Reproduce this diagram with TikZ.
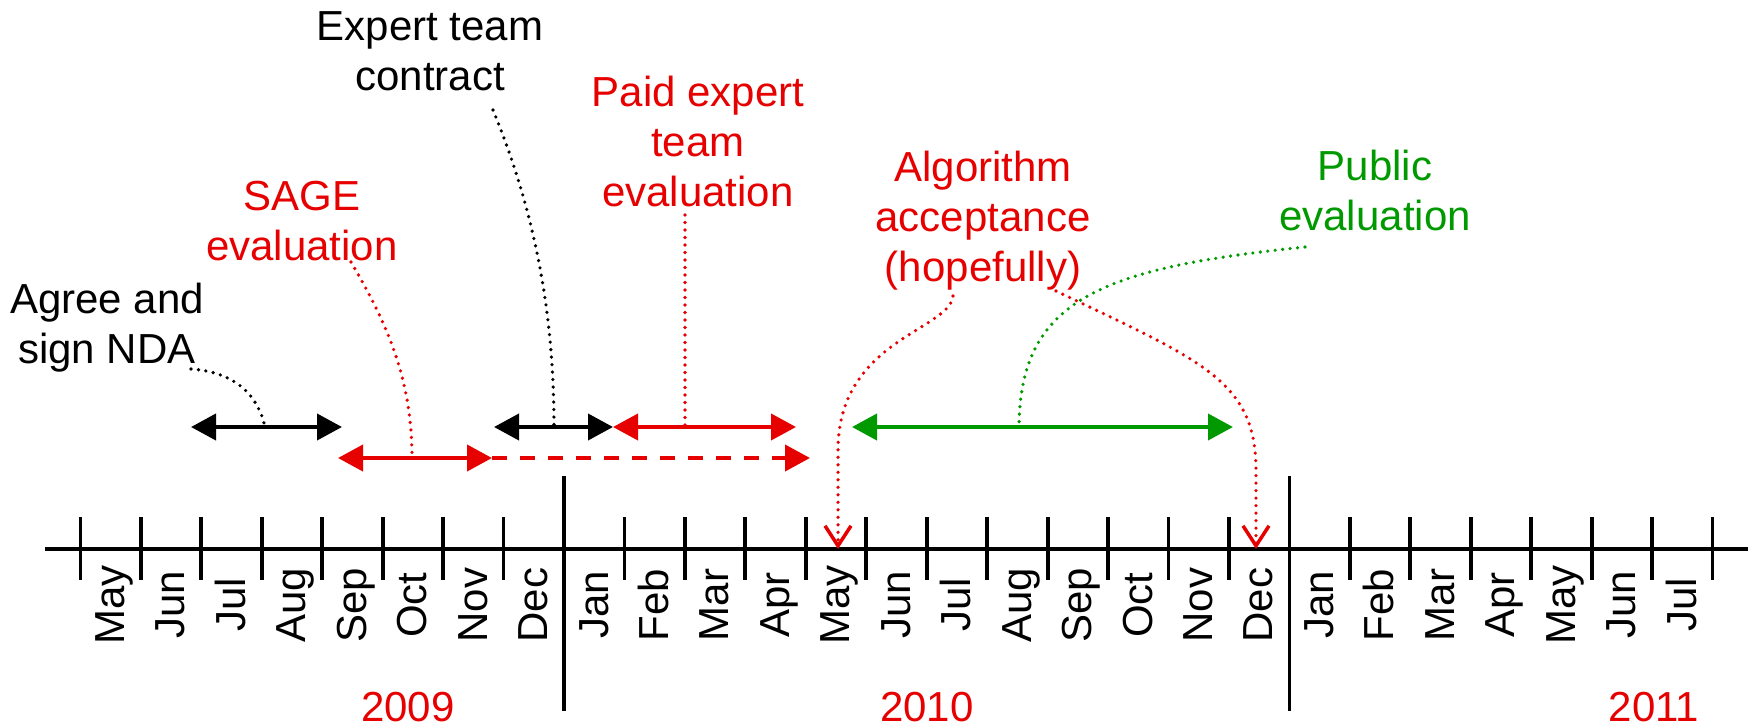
\documentclass[tikz,border=0pt]{standalone}
\usepackage{fontspec}
\setmainfont{Liberation Sans}
\usetikzlibrary{arrows.meta}
\definecolor{myred}{RGB}{230,0,0}
\definecolor{mygreen}{RGB}{0,153,0}
\begin{document}
\begin{tikzpicture}[x=1pt,y=-1pt,
  lbl/.style={font=\fontsize{42}{50}\selectfont, align=center, inner sep=0pt},
  month/.style={font=\fontsize{42}{50}\selectfont, rotate=90, inner sep=0pt, anchor=base},
  span/.style={line width=4pt, {Triangle[length=25pt,width=26pt]}-{Triangle[length=25pt,width=26pt]}},
  halfspan/.style={line width=4pt, dash pattern=on 15pt off 13pt, -{Triangle[length=25pt,width=26pt]}},
  leader/.style={line width=3.6pt, line cap=round, dash pattern=on 0pt off 7.5pt},
  barb/.style={-{Straight Barb[length=20pt,width=26pt,line width=3.5pt]}},
  ax/.style={line width=3.8pt},
]
\useasboundingbox (0,0) rectangle (1756,728);

% axis
\coordinate (axL) at (45,549);
\coordinate (axR) at (1748,549);
\draw[ax] (axL) -- (axR);
\foreach \i in {0,...,27}{
  \draw[ax] ({80.4+60.45*\i},517) -- ({80.4+60.45*\i},580);
}
\draw[ax] ({80.4+60.45*8},476) -- ({80.4+60.45*8},711);
\draw[ax] ({80.4+60.45*20},476) -- ({80.4+60.45*20},711);

% month labels
\foreach \m [count=\i from 0] in {May,Jun,Jul,Aug,Sep,Oct,Nov,Dec,Jan,Feb,Mar,Apr,May,Jun,Jul,Aug,Sep,Oct,Nov,Dec,Jan,Feb,Mar,Apr,May,Jun,Jul}{
  \node[month] (m\i) at ({80.4+60.45*\i+44},605) {\m};
}

% years
\node[lbl, text=myred] (y2009) at (408,707) {2009};
\node[lbl, text=myred] (y2010) at (927,707) {2010};
\node[lbl, text=myred] (y2011) at (1654,707) {2011};

% labels
\node[lbl] (nda) at (107,328) {Agree and\\sign NDA};
\node[lbl, text=myred] (sage) at (302,221) {SAGE\\evaluation};
\node[lbl] (contract) at (430,51) {Expert team\\contract};
\node[lbl, text=myred] (paid) at (698,141) {Paid expert\\team\\evaluation};
\node[lbl, text=myred] (alg) at (983,221) {Algorithm\\acceptance\\(hopefully)};
\node[lbl, text=mygreen] (pub) at (1375,190) {Public\\evaluation};

% span arrows
\coordinate (ndaL) at (191,427); \coordinate (ndaR) at (342,427); \coordinate (ndaM) at (265,427);
\coordinate (sageL) at (338,458); \coordinate (sageR) at (492,458); \coordinate (sageM) at (412,458);
\coordinate (dashE) at (810,458);
\coordinate (conL) at (494,427); \coordinate (conR) at (613,427); \coordinate (conM) at (554,427);
\coordinate (paidL) at (613,427); \coordinate (paidR) at (796,427); \coordinate (paidM) at (685,427);
\coordinate (pubL) at (852,427); \coordinate (pubR) at (1233,427); \coordinate (pubM) at (1019,427);
\coordinate (mayT) at (838,549);
\coordinate (decT) at (1256,549);

\draw[span] (ndaL) -- (ndaR);
\draw[span, myred] (sageL) -- (sageR);
\draw[halfspan, myred] (sageR) -- (dashE);
\draw[span] (conL) -- (conR);
\draw[span, myred] (paidL) -- (paidR);
\draw[span, mygreen] (pubL) -- (pubR);

% leader start points
\coordinate (ndaS) at (191,369);
\coordinate (sageS) at (351,262);
\coordinate (conS) at (493,110);
\coordinate (paidS) at (685,215);
\coordinate (algS1) at (953,296);
\coordinate (algS2) at (1056,291);
\coordinate (pubS) at (1305,247);

\draw[leader] (ndaS) .. controls (235,372) and (258,395) .. (ndaM);
\draw[leader, myred] (sageS) .. controls (388,325) and (412,380) .. (sageM);
\draw[leader] (conS) .. controls (530,200) and (554,300) .. (conM);
\draw[leader, myred] (paidS) -- (paidM);
\draw[leader, mygreen] (pubS) .. controls (1100,268) and (1020,300) .. (pubM);
\draw[leader, myred, barb] (algS1) .. controls (950,330) and (838,340) .. (838,450) -- (mayT);
\draw[leader, myred, barb] (algS2) .. controls (1200,360) and (1256,380) .. (1256,470) -- (decT);
\end{tikzpicture}
\end{document}
